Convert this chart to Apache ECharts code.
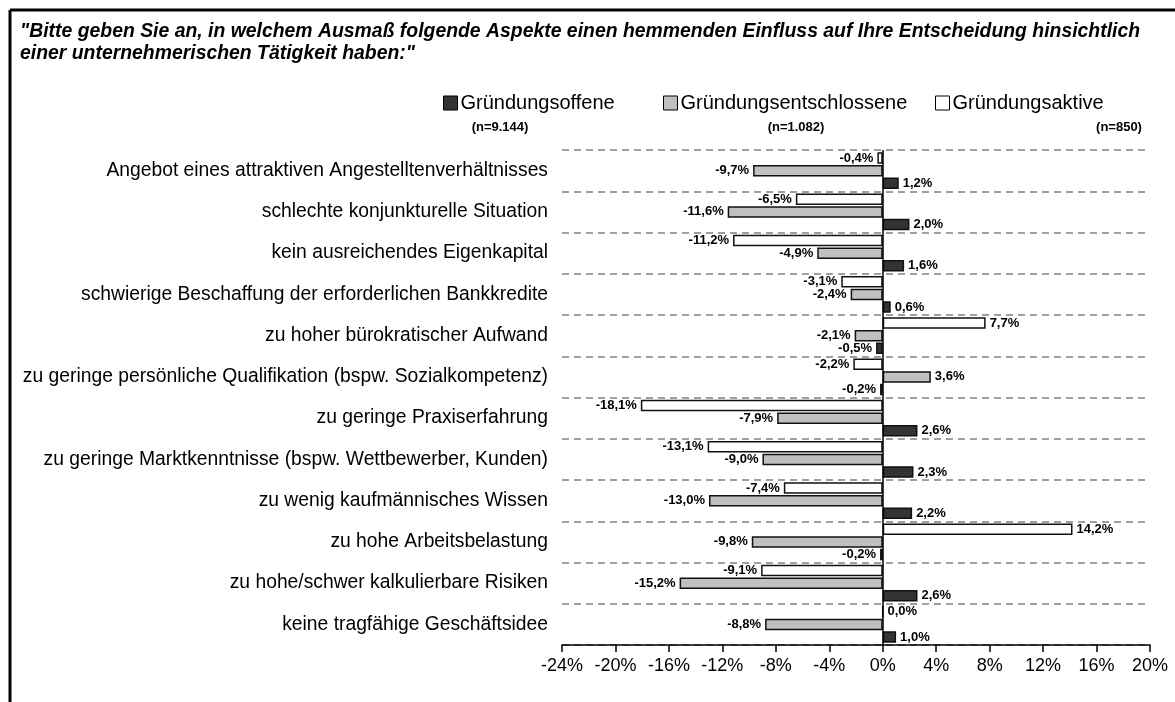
<!DOCTYPE html>
<html>
<head>
<meta charset="utf-8">
<script src="https://cdn.jsdelivr.net/npm/echarts@6/dist/echarts.min.js"></script>
<style>
  html, body { margin: 0; padding: 0; background: #fff; }
  #chart { width: 1175px; height: 702px; }
</style>
</head>
<body>
<div id="chart"></div>
<script>
var categories = [
  'Angebot eines attraktiven Angestelltenverhältnisses',
  'schlechte konjunkturelle Situation',
  'kein ausreichendes Eigenkapital',
  'schwierige Beschaffung der erforderlichen Bankkredite',
  'zu hoher bürokratischer Aufwand',
  'zu geringe persönliche Qualifikation (bspw. Sozialkompetenz)',
  'zu geringe Praxiserfahrung',
  'zu geringe Marktkenntnisse (bspw. Wettbewerber, Kunden)',
  'zu wenig kaufmännisches Wissen',
  'zu hohe Arbeitsbelastung',
  'zu hohe/schwer kalkulierbare Risiken',
  'keine tragfähige Geschäftsidee'
];
var seriesNames = ['Gründungsoffene', 'Gründungsentschlossene', 'Gründungsaktive'];
var sampleSizes = ['(n=9.144)', '(n=1.082)', '(n=850)'];
var offene = [1.2, 2.0, 1.6, 0.6, -0.5, -0.2, 2.6, 2.3, 2.2, -0.2, 2.6, 1.0];
var entschlossene = [-9.7, -11.6, -4.9, -2.4, -2.1, 3.6, -7.9, -9.0, -13.0, -9.8, -15.2, -8.8];
var aktive = [-0.4, -6.5, -11.2, -3.1, 7.7, -2.2, -18.1, -13.1, -7.4, 14.2, -9.1, 0.0];
var xTicks = { min: -24, max: 20, interval: 4 };

var font = '"Liberation Sans", Arial, sans-serif';

function fmt(v) {
  return v.toFixed(1).replace('.', ',') + '%';
}

function buildData(values) {
  return values.map(function (v) {
    return {
      value: v,
      label: { position: v < 0 ? 'left' : 'right' }
    };
  });
}

function barSeries(name, values, color, withZeroLine) {
  var s = {
    name: name,
    type: 'bar',
    barWidth: 11.5,
    barGap: '10%',
    data: buildData(values),
    itemStyle: { color: color, borderColor: '#111', borderWidth: 1.5 },
    label: {
      show: true,
      distance: 4,
      color: '#000',
      fontFamily: font,
      fontWeight: 'bold',
      fontSize: 13,
      formatter: function (p) { return fmt(p.value); }
    }
  };
  if (withZeroLine) {
    s.markLine = {
      silent: true,
      symbol: 'none',
      label: { show: false },
      lineStyle: { color: '#000', type: 'solid', width: 1.5 },
      data: [{ xAxis: 0 }]
    };
  }
  return s;
}

var colors = { 'Gründungsoffene': '#333333', 'Gründungsentschlossene': '#C0C0C0', 'Gründungsaktive': '#FFFFFF' };
var legendLefts = [438, 658, 930];
var nLabelCenters = [500, 796, 1119];

function legendFor(i) {
  return {
    left: legendLefts[i],
    top: 88,
    icon: 'rect',
    itemWidth: 14,
    itemHeight: 14,
    itemGap: 0,
    selectedMode: false,
    data: [seriesNames[i]],
    itemStyle: { borderColor: '#000', borderWidth: 1 },
    textStyle: { fontFamily: font, fontSize: 20, color: '#000', padding: [0, 0, 0, -2] }
  };
}

var chart = echarts.init(document.getElementById('chart'));

var graphics = [
  { type: 'line', shape: { x1: 10, y1: 10, x2: 1175, y2: 10 }, style: { stroke: '#000', lineWidth: 3 } },
  { type: 'line', shape: { x1: 10, y1: 10, x2: 10, y2: 702 }, style: { stroke: '#000', lineWidth: 3 } }
];
sampleSizes.forEach(function (t, i) {
  graphics.push({
    type: 'text',
    x: nLabelCenters[i],
    y: 121,
    style: {
      text: t, fill: '#000', font: 'bold 13px ' + font,
      align: 'center'
    }
  });
});

var option = {
  animation: false,
  backgroundColor: '#fff',
  title: {
    text: '"Bitte geben Sie an, in welchem Ausmaß folgende Aspekte einen hemmenden Einfluss auf Ihre Entscheidung hinsichtlich\neiner unternehmerischen Tätigkeit haben:"',
    left: 15,
    top: 16,
    textStyle: {
      fontFamily: font, fontSize: 19.4, fontWeight: 'bold', fontStyle: 'italic',
      color: '#000', lineHeight: 22
    }
  },
  legend: [legendFor(0), legendFor(1), legendFor(2)],
  graphic: graphics,
  grid: { left: 562, right: 25, top: 150, bottom: 57 },
  xAxis: {
    type: 'value',
    min: xTicks.min,
    max: xTicks.max,
    interval: xTicks.interval,
    axisLine: { show: true, onZero: false, lineStyle: { color: '#000', width: 1.5 } },
    axisTick: { show: true, inside: false, length: 7, lineStyle: { color: '#000', width: 1.5 } },
    splitLine: { show: false },
    axisLabel: {
      margin: 12, color: '#000', fontFamily: font, fontSize: 18,
      formatter: function (v) { return v + '%'; }
    }
  },
  yAxis: {
    type: 'category',
    inverse: true,
    data: categories,
    axisLine: { show: false },
    axisTick: { show: false },
    splitLine: { show: true, lineStyle: { color: '#808080', width: 1.5, type: [7, 5] } },
    axisLabel: { margin: 14, color: '#000', fontFamily: font, fontSize: 19.3 }
  },
  series: [
    barSeries('Gründungsaktive', aktive, colors['Gründungsaktive'], true),
    barSeries('Gründungsentschlossene', entschlossene, colors['Gründungsentschlossene'], false),
    barSeries('Gründungsoffene', offene, colors['Gründungsoffene'], false)
  ]
};

chart.setOption(option);
</script>
</body>
</html>
